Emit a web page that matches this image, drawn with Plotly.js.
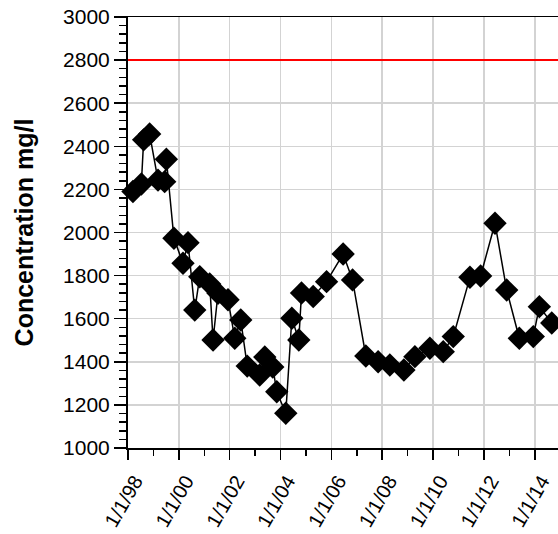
<!DOCTYPE html>
<html>
<head>
<meta charset="utf-8">
<script src="https://cdn.plot.ly/plotly-3.0.1.min.js"></script>
<style>html,body{margin:0;padding:0;background:#fff;}#chart{width:558px;height:534px;}</style>
</head>
<body>
<div id="chart"></div>
<script>
const sampleDates = [
  '1998-03-13','1998-07-12','1998-08-14','1998-11-08','1999-03-08','1999-06-12','1999-07-06','1999-10-23',
  '2000-03-01','2000-05-12','2000-08-17','2000-10-28','2001-03-20','2001-05-07','2001-07-17','2001-12-08',
  '2002-03-15','2002-06-09','2002-09-10','2003-03-08','2003-05-20','2003-09-12','2003-11-08','2004-03-17',
  '2004-06-12','2004-09-20','2004-10-29','2005-04-15','2005-10-24','2006-06-19','2006-11-01','2007-05-11',
  '2007-11-04','2008-04-20','2008-11-08','2009-04-15','2009-11-16','2010-05-27','2010-10-18','2011-06-15',
  '2011-11-15','2012-06-09','2012-11-24','2013-05-24','2013-12-11','2014-03-08','2014-09-02'
];
const concentration = [
  2190,2225,2430,2457,2243,2236,2340,1973,
  1857,1953,1640,1795,1761,1501,1718,1688,
  1509,1594,1380,1339,1422,1376,1261,1161,
  1602,1501,1719,1703,1772,1900,1780,1427,
  1400,1385,1362,1424,1463,1447,1517,1792,
  1798,2043,1733,1509,1517,1656,1580
];
const limitValue = 2800;
const xRange = ['1998-01-01','2014-12-01'];
const yRange = [1000, 3000];
const yTitle = 'Concentration mg/l';

const trace = {
  x: sampleDates, y: concentration, type: 'scatter', mode: 'lines+markers',
  line: {color: '#000', width: 1.5},
  marker: {symbol: 'diamond', size: 18, color: '#000'},
  cliponaxis: false, hoverinfo: 'skip'
};

const layout = {
  width: 558, height: 534,
  margin: {l: 128, r: 0, t: 17, b: 86},
  paper_bgcolor: '#fff', plot_bgcolor: '#fff',
  showlegend: false,
  font: {family: 'Liberation Sans, Arial, sans-serif', color: '#000', size: 21},
  xaxis: {
    type: 'date', range: xRange,
    tick0: '1998-01-01', dtick: 'M24', tickformat: '%-m/%-d/%y', tickangle: -60,
    ticks: 'outside', ticklen: 10, tickwidth: 1.5, tickcolor: '#000',
    ticklabelshift: 7, ticklabelstandoff: 2,
    showline: true, linecolor: '#000', linewidth: 1.5, mirror: true,
    showgrid: true, gridcolor: '#d3d3d3', gridwidth: 1.5,
    zeroline: false,
    tickfont: {size: 20, color: '#000'},
    minor: {dtick: 'M12', ticks: 'outside', ticklen: 6, tickwidth: 1.5, tickcolor: '#000', showgrid: false}
  },
  yaxis: {
    range: yRange, dtick: 200, tick0: 1000,
    ticks: 'outside', ticklen: 12, tickwidth: 1.5, tickcolor: '#000',
    showline: true, linecolor: '#000', linewidth: 2,
    showgrid: true, gridcolor: '#d3d3d3', gridwidth: 1.5,
    zeroline: false,
    tickfont: {size: 21, color: '#000'},
    title: {text: '<b>' + yTitle + '</b>', font: {size: 25, color: '#000'}, standoff: 22},
    minor: {dtick: 40, ticks: 'outside', ticklen: 7, tickwidth: 1.5, tickcolor: '#000', showgrid: false}
  },
  shapes: [{
    type: 'line', xref: 'paper', x0: 0, x1: 1, yref: 'y', y0: limitValue, y1: limitValue,
    line: {color: '#ff0000', width: 2}, layer: 'above'
  }]
};

Plotly.newPlot('chart', [trace], layout, {staticPlot: true, displayModeBar: false});
</script>
</body>
</html>
